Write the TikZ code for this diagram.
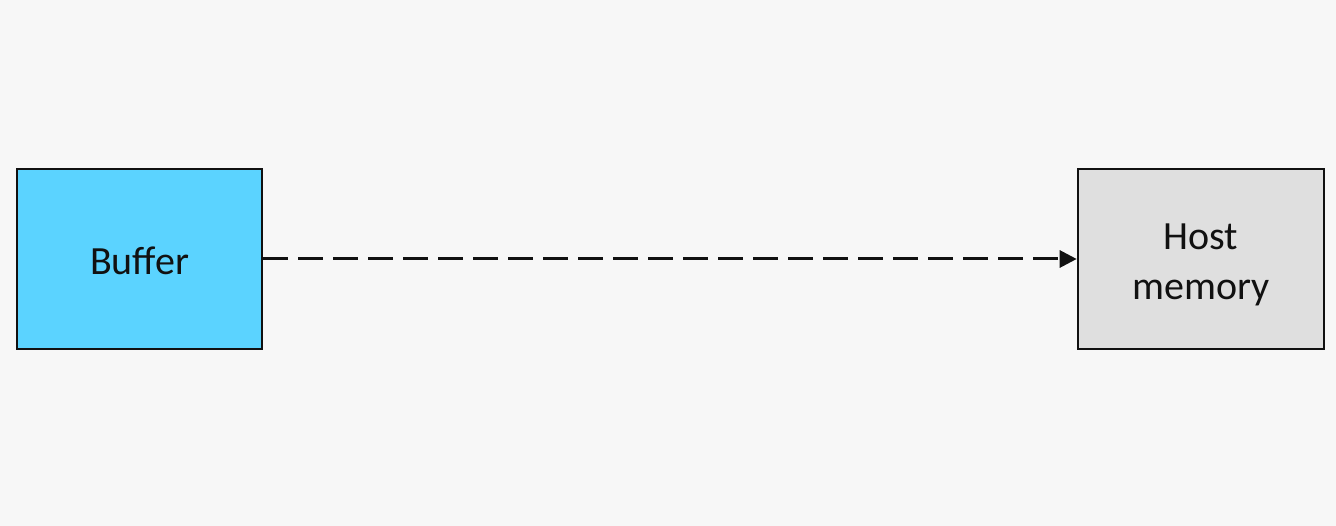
\documentclass[tikz,border=0pt]{standalone}
\usepackage{fontspec}
\setmainfont{Carlito}
\usetikzlibrary{arrows.meta}
\definecolor{bg}{HTML}{F7F7F7}
\definecolor{bufblue}{HTML}{5BD3FF}
\definecolor{hostgrey}{HTML}{DFDFDF}
\definecolor{ink}{HTML}{111111}
\tikzset{
  box/.style={draw=ink, line width=2.6pt, minimum width=245pt, minimum height=180pt, inner sep=0pt},
  lbl/.style={inner sep=0pt, align=center, anchor=base, font=\fontsize{40}{50}\selectfont, text=ink},
  link/.style={draw=ink, line width=3pt, dash pattern=on 25pt off 10pt, -{Triangle[length=17pt,width=17pt]}}
}
\begin{document}
\begin{tikzpicture}[x=1pt,y=-1pt]
\fill[bg] (0,0) rectangle (1336,526);
\useasboundingbox (0,0) rectangle (1336,526);
\node[box, fill=bufblue] (buf) at (139.5,259) {};
\node[box, fill=hostgrey, minimum width=246pt] (host) at (1201,259) {};
\node[lbl, yshift=-16pt] (buftxt) at (buf.center) {Buffer};
\node[lbl, yshift=-41pt] (hosttxt) at (host.center) {Host\\memory};
\draw[link] (buf.east) -- (host.west);
\end{tikzpicture}
\end{document}
